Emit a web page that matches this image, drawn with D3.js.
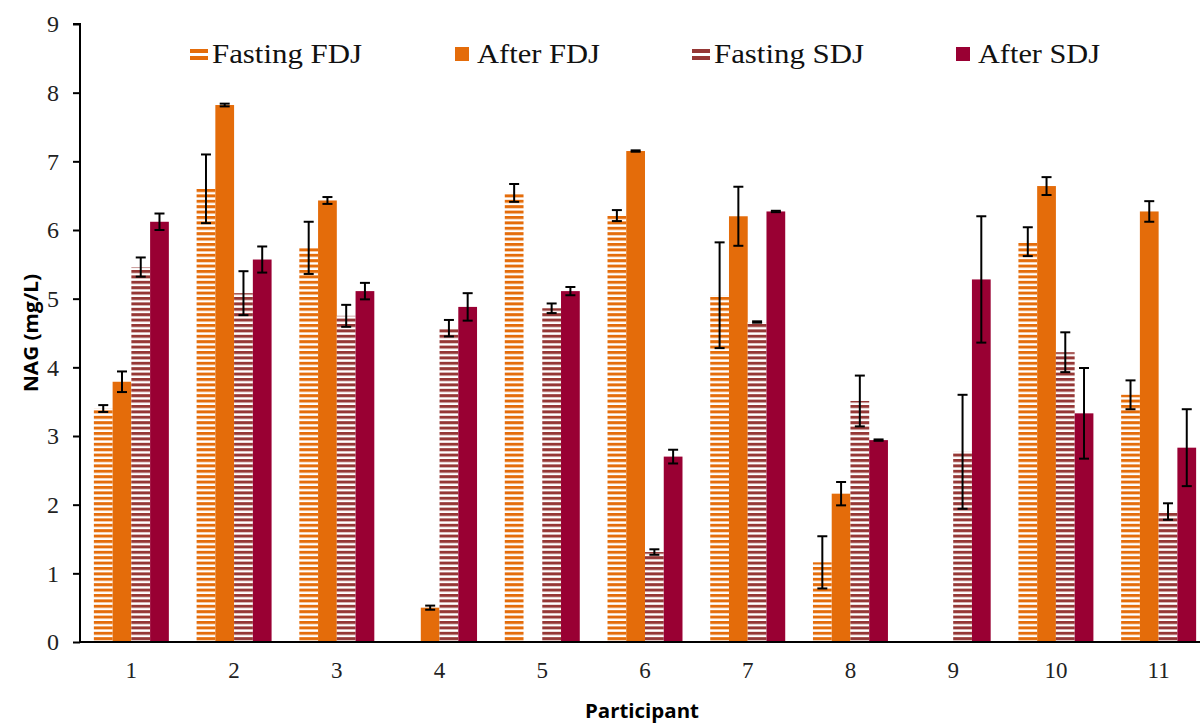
<!DOCTYPE html>
<html>
<head>
<meta charset="utf-8">
<script src="https://cdn.jsdelivr.net/npm/d3@7"></script>
<style>
  body { margin: 0; background: #fff; }
  svg { display: block; }
</style>
</head>
<body>
<svg id="chart"></svg>
<script>
// chart values
const participants = ["1", "2", "3", "4", "5", "6", "7", "8", "9", "10", "11"];
const seriesNames = ["Fasting FDJ", "After FDJ", "Fasting SDJ", "After SDJ"];
const fastingFDJ = [3.4, 6.6, 5.74, null, 6.54, 6.21, 5.05, 1.16, null, 5.83, 3.6];
const afterFDJ = [3.79, 7.82, 6.43, 0.5, null, 7.15, 6.2, 2.16, null, 6.64, 6.27];
const fastingSDJ = [5.46, 5.08, 4.75, 4.57, 4.86, 1.31, 4.66, 3.51, 2.77, 4.22, 1.9];
const afterSDJ = [6.12, 5.57, 5.11, 4.88, 5.11, 2.7, 6.27, 2.94, 5.28, 3.33, 2.83];
const errFastingFDJ = [0.05, 0.5, 0.38, null, 0.13, 0.08, 0.77, 0.38, null, 0.21, 0.21];
const errAfterFDJ = [0.15, 0.02, 0.05, 0.03, null, 0.01, 0.43, 0.17, null, 0.13, 0.15];
const errFastingSDJ = [0.14, 0.32, 0.16, 0.12, 0.07, 0.04, 0.01, 0.37, 0.83, 0.29, 0.12];
const errAfterSDJ = [0.12, 0.19, 0.12, 0.2, 0.06, 0.1, 0.01, 0.01, 0.92, 0.66, 0.56];
const yTicks = [0, 1, 2, 3, 4, 5, 6, 7, 8, 9];

const width = 1200, height = 724;
const svg = d3.select("#chart").attr("width", width).attr("height", height);

const orange = "#e46c0a", brick = "#953735", wine = "#990033";

// striped fills for the fasting series
const defs = svg.append("defs");
function stripes(id, color) {
  const p = defs.append("pattern")
    .attr("id", id)
    .attr("patternUnits", "userSpaceOnUse")
    .attr("width", 8).attr("height", 5.4);
  p.append("rect").attr("width", 8).attr("height", 5.4).attr("fill", "#fff");
  p.append("rect").attr("y", 0).attr("width", 8).attr("height", 3).attr("fill", color);
}
stripes("stripeOrange", orange);
stripes("stripeBrick", brick);

const series = [
  { name: seriesNames[0], values: fastingFDJ, err: errFastingFDJ, fill: "url(#stripeOrange)", key: orange, striped: true },
  { name: seriesNames[1], values: afterFDJ, err: errAfterFDJ, fill: orange, key: orange, striped: false },
  { name: seriesNames[2], values: fastingSDJ, err: errFastingSDJ, fill: "url(#stripeBrick)", key: brick, striped: true },
  { name: seriesNames[3], values: afterSDJ, err: errAfterSDJ, fill: wine, key: wine, striped: false }
];

const x0 = d3.scaleBand()
  .domain(participants)
  .range([80, 1210])
  .paddingInner(0.27)
  .paddingOuter(0.135);
const x1 = d3.scaleBand()
  .domain(seriesNames)
  .range([0, x0.bandwidth()]);
const y = d3.scaleLinear().domain([0, 9]).range([642, 24]);

// bars
const groups = svg.append("g").selectAll("g")
  .data(participants)
  .join("g")
    .attr("transform", d => `translate(${x0(d)},0)`);

groups.selectAll("rect")
  .data((d, i) => series.map(s => ({ s, v: s.values[i], e: s.err[i] })).filter(o => o.v != null))
  .join("rect")
    .attr("x", o => x1(o.s.name))
    .attr("y", o => y(o.v))
    .attr("width", x1.bandwidth())
    .attr("height", o => y(0) - y(o.v))
    .attr("fill", o => o.s.fill);

// error bars
const errs = groups.selectAll("g.err")
  .data((d, i) => series.map(s => ({ s, v: s.values[i], e: s.err[i] })).filter(o => o.v != null && o.e != null))
  .join("g")
    .attr("class", "err")
    .attr("stroke", "#000")
    .attr("stroke-width", 2);
const cx = o => x1(o.s.name) + x1.bandwidth() / 2;
errs.append("line")
  .attr("x1", cx).attr("x2", cx)
  .attr("y1", o => y(o.v + o.e)).attr("y2", o => y(o.v - o.e));
errs.append("line")
  .attr("x1", o => cx(o) - 5).attr("x2", o => cx(o) + 5)
  .attr("y1", o => y(o.v + o.e)).attr("y2", o => y(o.v + o.e));
errs.append("line")
  .attr("x1", o => cx(o) - 5).attr("x2", o => cx(o) + 5)
  .attr("y1", o => y(o.v - o.e)).attr("y2", o => y(o.v - o.e));

// y axis
const yAxis = svg.append("g")
  .attr("transform", "translate(80,0)")
  .call(d3.axisLeft(y).tickValues(yTicks).tickSize(7).tickPadding(14).tickFormat(d3.format("d")));
yAxis.select(".domain").attr("stroke", "#000").attr("stroke-width", 2).attr("d", "M-7,24H0V642");
yAxis.selectAll(".tick line").attr("stroke", "#000").attr("stroke-width", 2);
yAxis.selectAll(".tick text")
  .attr("font-family", "'Liberation Serif', 'Times New Roman', serif")
  .attr("font-size", 24).attr("fill", "#222");

// x axis
const xAxis = svg.append("g")
  .attr("transform", "translate(0,642)")
  .call(d3.axisBottom(x0).tickSize(0).tickPadding(20));
xAxis.select(".domain").attr("stroke", "#000").attr("stroke-width", 2).attr("d", "M80,0H1200");
xAxis.selectAll(".tick text")
  .attr("font-family", "'Liberation Serif', 'Times New Roman', serif")
  .attr("font-size", 23).attr("fill", "#222");

// axis titles
svg.append("text")
  .attr("x", 642).attr("y", 718)
  .attr("text-anchor", "middle")
  .attr("font-family", "'Open Sans', sans-serif")
  .attr("font-weight", "bold").attr("font-size", 20)
  .attr("textLength", 114).attr("lengthAdjust", "spacingAndGlyphs")
  .text("Participant");
svg.append("text")
  .attr("transform", "translate(38,333) rotate(-90)")
  .attr("text-anchor", "middle")
  .attr("font-family", "'Open Sans', sans-serif")
  .attr("font-weight", "bold").attr("font-size", 20)
  .attr("textLength", 118).attr("lengthAdjust", "spacingAndGlyphs")
  .text("NAG (mg/L)");

// legend
const legendX = [190, 455, 692, 956];
const legendW = [150, 123, 150, 122];
const legend = svg.append("g").selectAll("g")
  .data(series)
  .join("g")
    .attr("transform", (d, i) => `translate(${legendX[i]},0)`);
legend.each(function (d) {
  const g = d3.select(this);
  if (d.striped) {
    g.append("rect").attr("x", 0).attr("y", 49).attr("width", 18).attr("height", 4).attr("fill", d.key);
    g.append("rect").attr("x", 0).attr("y", 56).attr("width", 18).attr("height", 4).attr("fill", d.key);
  } else {
    g.append("rect").attr("x", 0).attr("y", 47).attr("width", 14).attr("height", 14).attr("fill", d.key);
  }
});
legend.append("text")
  .attr("x", 22)
  .attr("y", 63)
  .attr("font-family", "'Liberation Serif', 'Times New Roman', serif")
  .attr("font-size", 27).attr("fill", "#111")
  .attr("textLength", (d, i) => legendW[i])
  .attr("lengthAdjust", "spacingAndGlyphs")
  .text(d => d.name);
</script>
</body>
</html>
